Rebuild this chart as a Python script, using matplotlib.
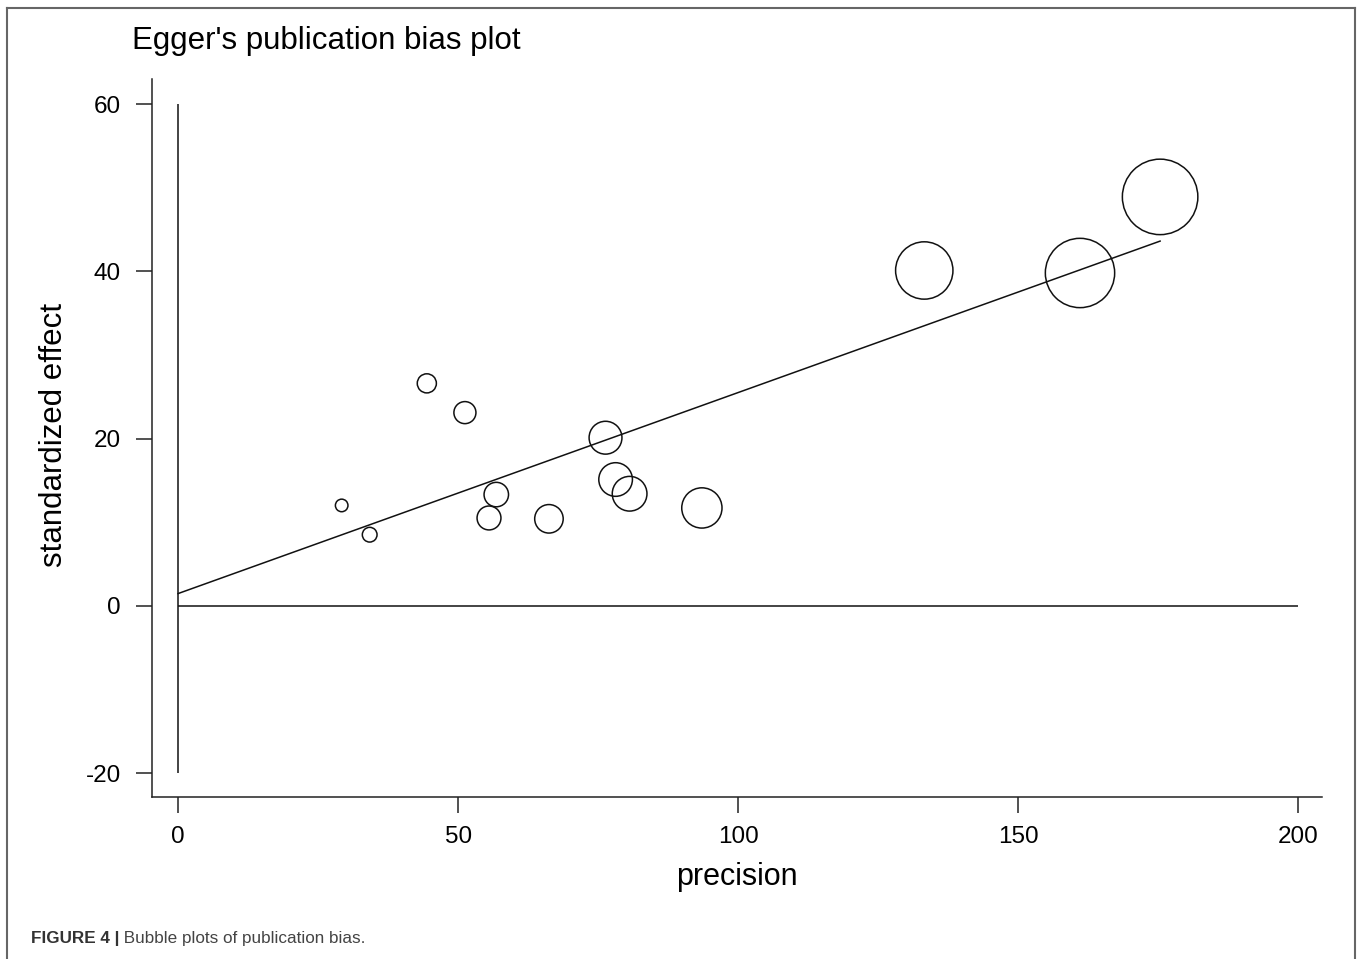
import numpy as np
import matplotlib
matplotlib.use("Agg")
import matplotlib.pyplot as plt
from matplotlib.lines import Line2D

plt.rcParams["font.family"] = ["Liberation Sans", "DejaVu Sans"]
plt.rcParams["axes.unicode_minus"] = False

# Study data
precision = [29.2, 34.2, 44.4, 51.2, 55.5, 56.8, 66.2, 76.3, 78.1, 80.6, 93.5, 133.2, 161.0, 175.3]
std_effect = [12.0, 8.5, 26.6, 23.1, 10.5, 13.3, 10.4, 20.1, 15.1, 13.4, 11.7, 40.1, 39.8, 48.9]

x_ticks = [0, 50, 100, 150, 200]
y_ticks = [-20, 0, 20, 40, 60]

title = "Egger's publication bias plot"
x_label = "precision"
y_label = "standardized effect"
caption_bold = "FIGURE 4 |"
caption_text = " Bubble plots of publication bias."

W, H = 1358, 959
fig = plt.figure(figsize=(W / 100, H / 100), dpi=100)
ax = fig.add_axes([152 / W, 1 - 797 / H, (1322 - 152) / W, (797 - 79) / H])

x = np.array(precision)
y = np.array(std_effect)

# bubble radius grows with precision
sizes = (0.31 * x) ** 2
ax.scatter(x, y, s=sizes, facecolors="none", edgecolors="#111111", linewidths=1.1, zorder=3)

# Egger regression line (OLS of standardized effect on precision)
slope, intercept = np.polyfit(x, y, 1)
xs = np.array([0, x.max()])
ax.plot(xs, intercept + slope * xs, color="#111111", lw=1.1)

# reference lines
ax.hlines(0, x_ticks[0], x_ticks[-1], color="#111111", lw=1.1)
ax.vlines(0, y_ticks[0], y_ticks[-1], color="#111111", lw=1.1)

ax.set_xlim(-4.66, 204.2)
ax.set_ylim(-22.87, 63.0)
ax.set_xticks(x_ticks)
ax.set_yticks(y_ticks)

for side in ["top", "right"]:
    ax.spines[side].set_visible(False)
for side in ["left", "bottom"]:
    ax.spines[side].set_linewidth(1.1)
    ax.spines[side].set_color("#222222")

ax.tick_params(axis="both", direction="out", length=11.5, width=1.1, color="#222222", labelsize=17.5)
ax.tick_params(axis="x", pad=9.5)
ax.tick_params(axis="y", pad=11)

ax.set_xlabel(x_label, fontsize=22)
ax.xaxis.set_label_coords(0.5, (797 - 877) / 718)
ax.xaxis.label.set_va("center")
ax.set_ylabel(y_label, fontsize=22.5)
ax.yaxis.set_label_coords((54 - 152) / 1170, (797 - 435) / 718)
ax.yaxis.label.set_va("center")

fig.text(132 / W, 1 - 41 / H, title, fontsize=22.5, va="center", ha="left")

# caption under the framed figure
t1 = fig.text(31 / W, 1 - 939 / H, caption_bold, fontsize=12.3, fontweight="bold",
              color="#333333", va="center", ha="left")
fig.canvas.draw()
ax.annotate(caption_text, xy=(1, 0.5), xycoords=t1, fontsize=12.3, color="#444444",
            va="center", ha="left", annotation_clip=False)

# gray frame (top, left, right)
frame_kw = dict(color="#666666", lw=1.5, transform=fig.transFigure)
fig.add_artist(Line2D([7 / W, 1355 / W], [1 - 8 / H, 1 - 8 / H], **frame_kw))
fig.add_artist(Line2D([7 / W, 7 / W], [0, 1 - 8 / H], **frame_kw))
fig.add_artist(Line2D([1355 / W, 1355 / W], [0, 1 - 8 / H], **frame_kw))

fig.savefig("out.png", dpi=100)
